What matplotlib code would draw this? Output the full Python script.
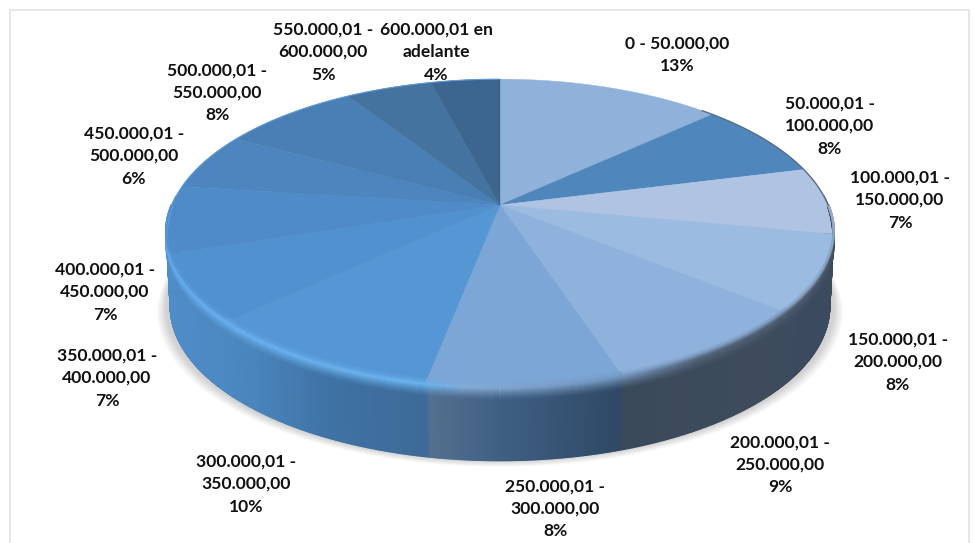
import matplotlib
matplotlib.use('Agg')
import matplotlib.pyplot as plt
import numpy as np
from matplotlib.collections import LineCollection, PolyCollection
from matplotlib.colors import to_rgb

plt.rcParams['font.family'] = ['Lato', 'DejaVu Sans']

# Chart data
categories = ['0 - 50.000,00', '50.000,01 -\n100.000,00', '100.000,01 -\n150.000,00',
              '150.000,01 -\n200.000,00', '200.000,01 -\n250.000,00', '250.000,01 -\n300.000,00',
              '300.000,01 -\n350.000,00', '350.000,01 -\n400.000,00', '400.000,01 -\n450.000,00',
              '450.000,01 -\n500.000,00', '500.000,01 -\n550.000,00', '550.000,01 -\n600.000,00',
              '600.000,01 en\nadelante']
percents = [13, 8, 7, 8, 9, 8, 10, 7, 7, 6, 8, 5, 4]

slice_colors = ['#90b2da', '#4f87bd', '#afc4e2', '#9cbbe0', '#8fb2dc', '#7ba6d6', '#5597d4',
                '#5091d0', '#4f8bc8', '#4d86bf', '#4a7fb5', '#44739f', '#3c6690']
label_x = [677, 830, 900, 898, 780, 555, 246, 107, 105, 134, 217, 323, 436]
label_y = [55, 126, 200, 362, 465, 509, 484, 378, 292, 156, 93, 52, 52]

# Perspective of the disc in pixels
CX, CY = 500, 205
A, B, TILT = 328, 149, 0.184
DEPTH = 73

# Side wall colours, left to right on screen
wall_x = [165, 250, 330, 425, 429, 500, 618, 624, 760, 835]
wall_c = ['#4f8dca', '#4a85bd', '#3f72a4', '#3d6a98', '#54708f', '#3f5f83', '#2f4966',
          '#3b4a5b', '#3d4b5c', '#3b4a5e']
edge_x = [165, 425, 470, 620, 700, 835]
edge_c = ['#68b0ee', '#6cb4f0', '#86abd4', '#6f90b6', '#56677c', '#4a5868']


def project(theta, r=1.0):
    """Map a clockwise angle from the top of the disc to pixels."""
    u = r * np.sin(theta)
    v = r * np.cos(theta)
    w = 1 + TILT * v
    return CX + A * u / w, CY - B * v / w


def mix(xs, stops, colors):
    rgb = np.array([to_rgb(c) for c in colors])
    return np.column_stack([np.interp(xs, stops, rgb[:, i]) for i in range(3)])


fig = plt.figure(figsize=(9.75, 5.43), dpi=100)
ax = fig.add_axes([0, 0, 1, 1])
ax.set_xlim(0, 975)
ax.set_ylim(543, 0)
ax.axis('off')

# Outer frame
ax.plot([10, 10, 969, 969], [543, 10, 10, 543], color='#e2e2e2', lw=1.2)

t = np.linspace(0, 2 * np.pi, 721)
x, y = project(t)

# Soft shadow under the disc
for grow in np.linspace(9, 1, 9):
    ax.fill(CX + (x - CX) * (1 + grow / 334), y + DEPTH + grow * 0.7, color='#000000',
            alpha=0.018, lw=0, zorder=1)

# Side wall as thin strips
front = np.linspace(-0.02, 1.02, 500) * np.pi + np.pi / 2
fx, fy = project(front)
quads = []
for i in range(len(front) - 1):
    quads.append([(fx[i], fy[i]), (fx[i + 1], fy[i + 1]),
                  (fx[i + 1] - (fx[i + 1] - CX) * 0.012, fy[i + 1] + DEPTH),
                  (fx[i] - (fx[i] - CX) * 0.012, fy[i] + DEPTH)])
wall = mix((fx[:-1] + fx[1:]) / 2, wall_x, wall_c)
ax.add_collection(PolyCollection(quads, facecolors=wall, edgecolors=wall, linewidths=1.0, zorder=2))

# Slices of the top face
edges = np.cumsum([0] + percents) / sum(percents) * 2 * np.pi
for start, end, color in zip(edges[:-1], edges[1:], slice_colors):
    th = np.linspace(start, end, 80)
    sx, sy = project(th)
    ax.fill(np.r_[CX, sx], np.r_[CY, sy], color=color, lw=0.3, zorder=3)

# Bevel around the lower rim: opaque bands blended into the wall below and the face above
rim = np.linspace(0.0, 1.0, 700) * np.pi + np.pi / 2
rx, ry = project(rim)
taper = np.clip((0.02 - np.cos(rim)) / 0.3, 0, 1)
mid_x = (rx[:-1] + rx[1:]) / 2
mid_t = (rim[:-1] + rim[1:]) / 2
rim_rgb = mix(mid_x, edge_x, edge_c)
wall_rgb = mix(mid_x, wall_x, wall_c)
slice_rgb = np.array([to_rgb(c) for c in slice_colors])
face_rgb = slice_rgb[np.clip(np.searchsorted(edges, mid_t) - 1, 0, len(percents) - 1)]
for shift in np.arange(11, -6, -1.0):
    if shift >= 0:
        k = (1 - shift / 12) ** 1.3
        colors = wall_rgb * (1 - k) + rim_rgb * k
    else:
        k = 1 + shift / 6
        colors = face_rgb * (1 - k) + rim_rgb * k
    points = np.column_stack([rx, ry + shift * taper])
    segs = np.stack([points[:-1], points[1:]], axis=1)
    ax.add_collection(LineCollection(segs, colors=colors, linewidths=1.6, zorder=4))

# Thin edge on the upper half
back = np.linspace(-0.5, 0.5, 300) * np.pi
bx, by = project(back)
ax.plot(bx[bx < 500], by[bx < 500], color='#5d9ad4', lw=0.8, zorder=4)
ax.plot(bx[bx > 700], by[bx > 700], color='#5a6c84', lw=1.0, zorder=4)

# Labels
for name, pct, lx, ly in zip(categories, percents, label_x, label_y):
    ax.text(lx, ly, f'{name}\n{pct}%', ha='center', va='center', fontsize=12.6,
            fontweight='bold', color='#111111', linespacing=1.5, zorder=6)

fig.savefig('out.png', dpi=100)
